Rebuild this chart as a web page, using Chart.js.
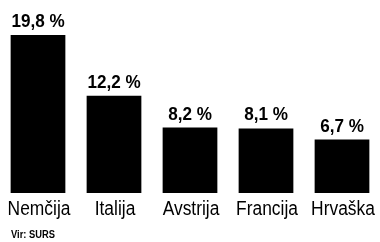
<!DOCTYPE html>
<html>
<head>
<meta charset="utf-8">
<script src="https://cdn.jsdelivr.net/npm/chart.js@4"></script>
<style>
  html, body { margin: 0; padding: 0; background: #fff; }
  #wrap { width: 380px; height: 242px; }
</style>
</head>
<body>
<div id="wrap"><canvas id="graf"></canvas></div>
<script>
var drzave = ["Nemčija", "Italija", "Avstrija", "Francija", "Hrvaška"];
var delezi = [19.8, 12.2, 8.2, 8.1, 6.7];
var oznake = ["19,8 %", "12,2 %", "8,2 %", "8,1 %", "6,7 %"];
var vir = "Vir: SURS";

// ozek napis: pisava se stisne vodoravno
function ozekTekst(ctx, tekst, x, y, stisk) {
    ctx.save();
    ctx.translate(x, y);
    ctx.scale(stisk, 1);
    ctx.fillText(tekst, 0, 0);
    ctx.restore();
}

// napisi nad stolpci, imena drzav in vir
var napisi = {
    id: "napisi",
    afterDatasetsDraw: function(chart) {
        var ctx = chart.ctx;
        var meta = chart.getDatasetMeta(0);
        var x = chart.scales.x;
        ctx.save();
        ctx.fillStyle = "#000";
        ctx.textAlign = "center";
        ctx.textBaseline = "alphabetic";
        meta.data.forEach(function(bar, i) {
            ctx.font = "bold 18px 'Liberation Sans'";
            ozekTekst(ctx, oznake[i], bar.x, bar.y - 8, 0.95);
            ctx.font = "20px 'Liberation Sans'";
            ozekTekst(ctx, drzave[i], x.getPixelForValue(i) + 1, 215, 0.87);
        });
        ctx.textAlign = "left";
        ctx.font = "bold 11px 'Liberation Sans'";
        ozekTekst(ctx, vir, 11, 238, 0.85);
        ctx.restore();
    }
};

var ctx = document.getElementById("graf").getContext("2d");
var grafikon = new Chart(ctx, {
    type: "bar",
    data: {
        labels: drzave,
        datasets: [{
            data: delezi,
            backgroundColor: "#000",
            borderWidth: 0,
            categoryPercentage: 1,
            barPercentage: 0.72
        }]
    },
    options: {
        responsive: true,
        maintainAspectRatio: false,
        animation: false,
        layout: { padding: { top: 0, bottom: 49, left: 0, right: 0 } },
        plugins: { legend: { display: false }, tooltip: { enabled: false } },
        scales: {
            x: { display: false },
            y: { display: false, min: 0, max: 24.2 }
        }
    },
    plugins: [napisi]
});
</script>
</body>
</html>
